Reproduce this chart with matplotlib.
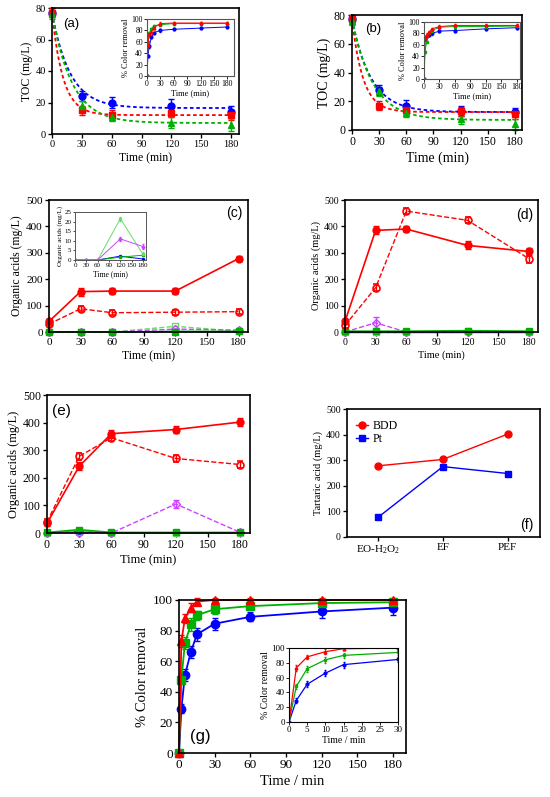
import numpy as np
import matplotlib
matplotlib.use("Agg")
import matplotlib.pyplot as plt

plt.rcParams["font.family"] = "Liberation Serif"
plt.rcParams["mathtext.fontset"] = "custom"
plt.rcParams["mathtext.rm"] = "Liberation Serif"
plt.rcParams["mathtext.it"] = "Liberation Serif:italic"

W, H = 550, 797
RED = "#ff0000"
BLUE = "#0000ff"
GREEN = "#00b000"
LGREEN = "#66dd66"
VIOLET = "#cc44ff"

# TOC decay (a), (b)
toc_time = [0, 30, 60, 120, 180]
toc_a_red = [77, 15, 12, 13.5, 12]
toc_a_blue = [77, 24, 20, 18, 14]
toc_a_green = [76, 18, 11, 7, 6]
toc_a_red_err = [3, 3, 3, 3, 3]
toc_a_blue_err = [3, 3, 3.5, 4, 4]
toc_a_green_err = [3, 3, 3, 3.5, 4]
toc_b_red = [77, 17, 14, 13, 11]
toc_b_blue = [77, 28, 17, 13, 12.5]
toc_b_green = [76, 27, 12, 7.5, 4]
toc_b_red_err = [3, 3, 3, 3, 3]
toc_b_blue_err = [3, 3.5, 4, 3.5, 3]
toc_b_green_err = [3, 3, 3, 3, 4]
# one-phase decay fits: start, plateau, rate constant
fit_a_red = (77, 12, 0.09)
fit_a_blue = (77, 16.5, 0.055)
fit_a_green = (77, 7, 0.05)
fit_b_red = (77, 12.5, 0.082)
fit_b_blue = (77, 12.5, 0.0475)
fit_b_green = (77, 7, 0.0435)

# colour removal insets (a), (b) and panel (g)
cr_time = [0, 2, 5, 10, 15, 30, 60, 120, 180]
cr_a_red = [0, 55, 73, 78, 85, 92, 93, 93, 93]
cr_a_green = [0, 60, 75, 83, 88, 90, 92, 92, 92]
cr_a_blue = [0, 35, 52, 68, 76, 80, 82, 84, 86]
cr_b_red = [0, 72, 78, 82, 88, 92, 94, 94, 94]
cr_b_green = [0, 48, 65, 80, 85, 91, 92, 92, 93]
cr_b_blue = [0, 70, 76, 78, 80, 84, 85, 88, 90]
g_red = [0, 73, 88, 95, 99, 100, 100, 100, 100]
g_green = [0, 48, 72, 84, 90, 94, 96, 98, 98.5]
g_blue = [0, 29, 51, 66, 77.5, 84.5, 89, 92.5, 95]
g_red_err = [0, 4, 3, 3, 2, 1, 1, 1, 1]
g_green_err = [0, 3, 4, 4, 3, 3, 2, 2, 2]
g_blue_err = [0, 3, 4, 4, 4, 4, 3, 4, 5]

# organic acids (c), (d), (e)
oa_time = [0, 30, 60, 120, 180]
c_red_fill = [40, 153, 155, 155, 278]
c_red_open = [30, 88, 73, 75, 77]
c_green_fill = [0, 0, 0, 1.5, 2.5]
c_green_open = [0, 0, 0, 21.5, 3]
c_violet = [0, 0, 0, 11, 7]
c_blue = [0, 0, 0, 2, 0.5]
c_red_fill_err = [10, 15, 12, 12, 10]
c_red_open_err = [8, 10, 10, 10, 10]
c_green_open_err = [0, 0, 0, 1, 1]
c_violet_err = [0, 0, 0, 1, 1.2]

d_red_fill = [40, 385, 390, 328, 305]
d_red_open = [25, 168, 458, 423, 278]
d_green_fill = [3, 3, 3, 5, 3]
d_green_open = [0, 0, 0, 5, 0]
d_violet = [0, 35, 0, 0, 0]
d_blue = [0, 0, 0, 0, 0]
d_red_fill_err = [10, 15, 12, 15, 15]
d_red_open_err = [8, 12, 12, 12, 15]
d_violet_err = [0, 20, 0, 0, 0]

e_red_fill = [35, 242, 360, 375, 402]
e_red_open = [40, 278, 345, 270, 248]
e_green_fill = [2, 12, 2, 2, 2]
e_green_open = [0, 5, 0, 0, 0]
e_violet = [0, 0, 0, 105, 2]
e_blue = [0, 5, 0, 0, 0]
e_red_fill_err = [10, 15, 15, 12, 15]
e_red_open_err = [10, 12, 12, 12, 12]
e_violet_err = [0, 0, 0, 15, 0]

# tartaric acid (f)
f_labels = ["EO-H$_2$O$_2$", "EF", "PEF"]
f_bdd = [278, 303, 402]
f_pt = [77, 275, 248]


def box(fig, l, t, r, b):
    return fig.add_axes([l / W, 1 - b / H, (r - l) / W, (b - t) / H])


def style(ax, size, lw=1.2):
    for s in ax.spines.values():
        s.set_linewidth(lw)
    ax.tick_params(direction="out", length=3, width=lw * 0.8, labelsize=size, pad=1.5)


def decay(t, p):
    y0, plateau, k = p
    return plateau + (y0 - plateau) * np.exp(-k * t)


def tocPanel(ax, red, blue, green, errs, fits, size, lsize):
    t = np.linspace(0, 180, 300)
    for y, e, f, c, m in zip([blue, red, green], errs, fits, [BLUE, RED, GREEN], ["o", "s", "^"]):
        ax.plot(t, decay(t, f), ls=(0, (2, 1.5)), color=c, lw=1.3)
        ax.errorbar(toc_time, y, yerr=e, fmt=m, color=c, ms=5, capsize=2, elinewidth=1, clip_on=False)
    ax.set_xlim(0, 188)
    ax.set_ylim(0, 80)
    ax.set_xticks([0, 30, 60, 90, 120, 150, 180])
    ax.set_yticks([0, 20, 40, 60, 80])
    ax.set_xlabel("Time (min)", fontsize=lsize, labelpad=2)
    ax.set_ylabel("TOC (mg/L)", fontsize=lsize, labelpad=2)
    style(ax, size)


def crInset(ax, red, green, blue, xmax, xlab):
    for y, c, m in zip([blue, green, red], [BLUE, GREEN, RED], ["o", "s", "^"]):
        ax.errorbar(cr_time, y, yerr=2, fmt=m + "-", color=c, ms=2, lw=0.7, capsize=1, elinewidth=0.6)
    ax.set_xlim(0, xmax)
    ax.set_ylim(0, 100)
    ax.set_yticks([0, 20, 40, 60, 80, 100])
    ax.set_xlabel(xlab, fontsize=6, labelpad=1)
    ax.set_ylabel("% Color removal", fontsize=6, labelpad=1)
    for s in ax.spines.values():
        s.set_linewidth(0.8)
        s.set_color("#555555")
    ax.tick_params(direction="out", length=2, width=0.6, labelsize=5.5, pad=1)


def acidPanel(ax, rf, rfe, ro, roe, gf, go, vi, vie, bl, size, lsize):
    kw = dict(capsize=2, elinewidth=1, clip_on=False)
    ax.errorbar(oa_time, bl, fmt="o-", color=BLUE, ms=3, lw=1, **kw)
    ax.errorbar(oa_time, go, fmt="s--", color=LGREEN, mfc="none", ms=4, lw=1, **kw)
    ax.errorbar(oa_time, vi, yerr=vie, fmt="D--", color=VIOLET, mfc="none", ms=4, lw=1, **kw)
    ax.errorbar(oa_time, gf, fmt="s-", color=GREEN, ms=4.5, lw=1.2, **kw)
    ax.errorbar(oa_time, ro, yerr=roe, fmt="o--", color=RED, mfc="none", ms=5, lw=1, mew=1.2, **kw)
    ax.errorbar(oa_time, rf, yerr=rfe, fmt="o-", color=RED, ms=5, lw=1.2, **kw)
    ax.set_xlim(0, 189)
    ax.set_ylim(0, 500)
    ax.set_xticks([0, 30, 60, 90, 120, 150, 180])
    ax.set_yticks([0, 100, 200, 300, 400, 500])
    ax.set_xlabel("Time (min)", fontsize=lsize, labelpad=2)
    ax.set_ylabel("Organic acids (mg/L)", fontsize=lsize, labelpad=2)
    style(ax, size)


fig = plt.figure(figsize=(W / 100, H / 100), dpi=100)
sans = dict(family="Liberation Sans")

# (a)
ax = box(fig, 52, 8, 239, 134)
tocPanel(ax, toc_a_red, toc_a_blue, toc_a_green,
         [toc_a_blue_err, toc_a_red_err, toc_a_green_err],
         [fit_a_blue, fit_a_red, fit_a_green], 7.5, 8.5)
ax.text(0.06, 0.87, "(a)", transform=ax.transAxes, fontsize=9.5, va="center", **sans)
ins = box(fig, 147, 19, 234, 76)
crInset(ins, cr_a_red, cr_a_green, cr_a_blue, 195, "Time (min)")
ins.set_xticks([0, 30, 60, 90, 120, 150, 180])

# (b)
ax = box(fig, 352, 15, 522, 130)
tocPanel(ax, toc_b_red, toc_b_blue, toc_b_green,
         [toc_b_blue_err, toc_b_red_err, toc_b_green_err],
         [fit_b_blue, fit_b_red, fit_b_green], 8.5, 10)
ax.text(0.076, 0.878, "(b)", transform=ax.transAxes, fontsize=9.5, va="center", **sans)
ins = box(fig, 424, 22, 520, 79)
crInset(ins, cr_b_red, cr_b_green, cr_b_blue, 186, "Time (min)")
ins.set_xticks([0, 30, 60, 90, 120, 150, 180])

# (c)
ax = box(fig, 49, 200, 248, 332)
acidPanel(ax, c_red_fill, c_red_fill_err, c_red_open, c_red_open_err,
          c_green_fill, c_green_open, c_violet, c_violet_err, c_blue, 8, 8.5)
ax.text(0.97, 0.898, "(c)", transform=ax.transAxes, fontsize=10, va="center", ha="right", **sans)
ins = box(fig, 75, 212, 146, 260)
ins.errorbar(oa_time, c_green_open, yerr=c_green_open_err, fmt="s-", color=LGREEN, ms=1.5, lw=0.7, capsize=1, elinewidth=0.6)
ins.errorbar(oa_time, c_violet, yerr=c_violet_err, fmt="D-", color=VIOLET, ms=1.5, lw=0.7, capsize=1, elinewidth=0.6)
ins.plot(oa_time, c_blue, "o-", color=BLUE, ms=1.5, lw=0.7)
ins.plot(oa_time, c_green_fill, "s-", color=GREEN, ms=1.5, lw=0.7)
ins.set_xlim(0, 188)
ins.set_ylim(0, 25)
ins.set_xticks([0, 30, 60, 90, 120, 150, 180])
ins.set_yticks([0, 5, 10, 15, 20, 25])
ins.set_xlabel("Time (min)", fontsize=5.5, labelpad=1)
ins.set_ylabel("Organic acids (mg/L)", fontsize=5, labelpad=1)
for s in ins.spines.values():
    s.set_linewidth(0.7)
    s.set_color("#555555")
ins.tick_params(direction="out", length=1.5, width=0.5, labelsize=5, pad=1)

# (d)
ax = box(fig, 345, 200, 538, 332)
acidPanel(ax, d_red_fill, d_red_fill_err, d_red_open, d_red_open_err,
          d_green_fill, d_green_open, d_violet, d_violet_err, d_blue, 7, 7.5)
ax.text(0.974, 0.886, "(d)", transform=ax.transAxes, fontsize=10, va="center", ha="right", **sans)

# (e)
ax = box(fig, 47, 395, 250, 533)
acidPanel(ax, e_red_fill, e_red_fill_err, e_red_open, e_red_open_err,
          e_green_fill, e_green_open, e_violet, e_violet_err, e_blue, 8.5, 9)
ax.text(0.025, 0.884, "(e)", transform=ax.transAxes, fontsize=11, va="center", **sans)

# (f)
ax = box(fig, 347, 409, 540, 537)
x = np.arange(len(f_labels))
ax.plot(x, f_bdd, "o-", color=RED, ms=5, lw=1, label="BDD")
ax.plot(x, f_pt, "s-", color=BLUE, ms=5, lw=1, label="Pt")
ax.set_xlim(-0.48, 2.5)
ax.set_ylim(0, 500)
ax.set_xticks(x)
ax.set_xticklabels(f_labels)
ax.set_yticks([0, 100, 200, 300, 400, 500])
ax.set_ylabel("Tartaric acid (mg/L)", fontsize=7.5, labelpad=2)
style(ax, 7)
ax.tick_params(axis="x", labelsize=8)
ax.legend(loc="upper left", bbox_to_anchor=(0.01, 0.97), frameon=False, fontsize=8.5,
          handlelength=1, handletextpad=0.4, labelspacing=0.1, borderaxespad=0.2)
ax.text(0.964, 0.094, "(f)", transform=ax.transAxes, fontsize=10, va="center", ha="right", **sans)

# (g)
ax = box(fig, 179, 600, 406, 753)
for y, e, c, m in zip([g_blue, g_green, g_red], [g_blue_err, g_green_err, g_red_err],
                      [BLUE, GREEN, RED], ["o", "s", "^"]):
    ax.errorbar(cr_time, y, yerr=e, fmt=m + "-", color=c, ms=6, lw=1.3, capsize=2.5, elinewidth=1, clip_on=False)
ax.set_xlim(0, 191)
ax.set_ylim(0, 100)
ax.set_xticks([0, 30, 60, 90, 120, 150, 180])
ax.set_yticks([0, 20, 40, 60, 80, 100])
ax.set_xlabel("Time / min", fontsize=10.5, labelpad=3)
ax.set_ylabel("% Color removal", fontsize=10.5, labelpad=3)
style(ax, 9.5)
ax.text(0.048, 0.105, "(g)", transform=ax.transAxes, fontsize=12, va="center", **sans)
ins = box(fig, 289, 648, 398, 722)
for y, e, c, m in zip([g_blue, g_green, g_red], [g_blue_err, g_green_err, g_red_err],
                      [BLUE, GREEN, RED], ["o", "s", "^"]):
    ins.errorbar(cr_time, y, yerr=e, fmt=m + "-", color=c, ms=2, lw=0.9, capsize=1, elinewidth=0.6)
ins.set_xlim(0, 30)
ins.set_ylim(0, 100)
ins.set_xticks([0, 5, 10, 15, 20, 25, 30])
ins.set_yticks([0, 20, 40, 60, 80, 100])
ins.set_xlabel("Time / min", fontsize=7, labelpad=1)
ins.set_ylabel("% Color removal", fontsize=7, labelpad=1)
for s in ins.spines.values():
    s.set_linewidth(0.8)
ins.tick_params(direction="out", length=2, width=0.6, labelsize=6.5, pad=1)

fig.savefig("out.png", dpi=100)
